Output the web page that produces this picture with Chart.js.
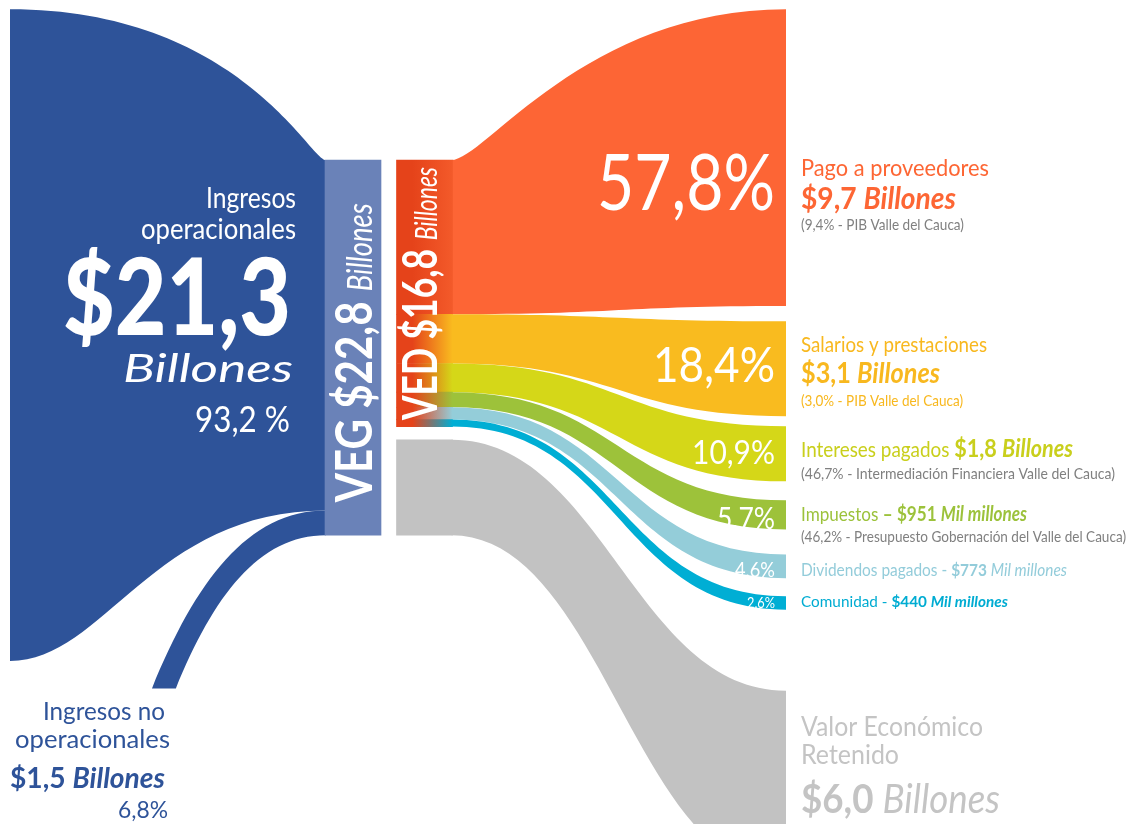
<!DOCTYPE html>
<html lang="es">
<head>
  <meta charset="UTF-8">
  <title>Valor Económico Generado y Distribuido</title>
  <script src="https://cdn.jsdelivr.net/npm/chart.js"></script>
  <style>
    html, body { margin: 0; padding: 0; background: #fff; }
    #wrap { width: 1129px; height: 824px; }
  </style>
</head>
<body>
  <div id="wrap"><canvas id="veg" width="1129" height="824"></canvas></div>

  <script>
    // values in billones de pesos
    const sourceNames = ['Ingresos operacionales', 'Ingresos no operacionales'];
    const sourceValues = [21.3, 1.5];
    const sourceAmount = ['$21,3', '$1,5'];
    const sourcePct = ['93,2 %', '6,8%'];
    const vegValue = 22.8;
    const vedValue = 16.8;
    const retainedValue = 6.0;

    const expenseNames = ['Pago a proveedores', 'Salarios y prestaciones', 'Intereses pagados', 'Impuestos', 'Dividendos pagados', 'Comunidad'];
    const expenseValues = [9.7, 3.1, 1.8, 0.951, 0.773, 0.44];
    const expensePct = ['57,8%', '18,4%', '10,9%', '5,7%', '4,6%', '2,6%'];
    const expenseAmount = ['$9,7', '$3,1', '$1,8', '$951', '$773', '$440'];
    const expenseUnit = ['Billones', 'Billones', 'Billones', 'Mil millones', 'Mil millones', 'Mil millones'];
    const expenseNotes = [
      '(9,4% - PIB Valle del Cauca)',
      '(3,0% - PIB Valle del Cauca)',
      '(46,7% - Intermediación Financiera Valle del Cauca)',
      '(46,2% - Presupuesto Gobernación del Valle del Cauca)',
      '', ''
    ];

    // colours
    const bandColors = ['#fd6535', '#f9bb1f', '#d5d718', '#9dc23a', '#94cdd9', '#00aed4'];
    const textColors = ['#fd6634', '#f8b81f', '#c9cf1c', '#9cc23b', '#93ccda', '#00acd2'];
    const BLUE = '#2e5399', BLUE_LIGHT = '#6a82b8', VED_RED = '#e5431a';
    const GREY = '#c2c2c2', GREY_TXT = '#c4c4c4', NOTE = '#808080';

    // layout (x in page pixels on a 0..1129 linear axis)
    const X = { left: 10, veg: 353, ved: 424.5, barW: 56, right: 786, nonOp: 152 };
    const GAP_IN = 0.8, RET_GAP = 2.65, NONOP_BASE = 22.2;
    const gapsOut = [0.5, 0.33, 0.62, 0.82, 0.59];   // space between the bands on the right

    const FONT = 'Lato, "Open Sans", sans-serif';
    const f = (size, weight = 'normal', style = 'normal') => `${style} ${weight} ${size}px ${FONT}`;

    const vedStart = expenseValues.map((v, i) => expenseValues.slice(0, i).reduce((a, b) => a + b, 0));
    const rightStart = vedStart.map((s, i) => s + gapsOut.slice(0, i).reduce((a, b) => a + b, 0));
    const retIn = vedValue + GAP_IN;
    const retOut = rightStart[5] + expenseValues[5] + RET_GAP;
    const vegSpan = vedValue + GAP_IN + retainedValue;

    const nodeBars = [
      { x: X.veg, y: [0, vegSpan] },
      ...expenseValues.map((v, i) => ({ x: X.ved, y: [vedStart[i], vedStart[i] + v] })),
      { x: X.ved, y: [retIn, retIn + retainedValue] }
    ];

    function nodeColor(c) {
      const i = c.dataIndex;
      if (i === undefined) return VED_RED;
      if (i === 0) return BLUE_LIGHT;
      if (i === nodeBars.length - 1) return GREY;
      const sx = c.chart.scales.x;
      if (!sx || !c.chart.chartArea) return VED_RED;
      const x0 = sx.getPixelForValue(X.ved - X.barW / 2 + 16);
      const x1 = sx.getPixelForValue(X.ved + X.barW / 2);
      const g = c.chart.ctx.createLinearGradient(x0, 0, x1, 0);
      g.addColorStop(0, VED_RED);
      g.addColorStop(1, i === 1 ? '#f35a2a' : bandColors[i - 1]);
      return g;
    }

    function ribbon(ctx, x0, t0, b0, x1, t1, b1, color, ct, cb) {
      const dx = x1 - x0;
      ctx.beginPath();
      ctx.moveTo(x0, t0);
      ctx.bezierCurveTo(x0 + dx * ct[0], t0, x0 + dx * ct[1], t1, x1, t1);
      ctx.lineTo(x1, b1);
      ctx.bezierCurveTo(x0 + dx * cb[1], b1, x0 + dx * cb[0], b0, x0, b0);
      ctx.closePath();
      ctx.fillStyle = color;
      ctx.fill();
    }

    function drawText(ctx, x, y, parts, w, align) {
      let total = 0;
      const ws = parts.map(([s, font]) => {
        ctx.font = font;
        const m = ctx.measureText(s).width;
        total += m;
        return m;
      });
      const sx = w ? w / total : 1;
      ctx.save();
      ctx.translate(align === 'right' ? x - total * sx : x, y);
      ctx.scale(sx, 1);
      ctx.textAlign = 'left';
      ctx.textBaseline = 'alphabetic';
      let cx = 0;
      parts.forEach(([s, font, color], i) => {
        ctx.font = font;
        ctx.fillStyle = color;
        ctx.fillText(s, cx, 0);
        cx += ws[i];
      });
      ctx.restore();
    }

    function drawFlows(chart) {
      const { ctx, scales: { x, yOut, yIn } } = chart;
      const yo = v => yOut.getPixelForValue(v);
      const yi = v => yIn.getPixelForValue(v);
      const k = vegSpan / vegValue;
      const vegL = x.getPixelForValue(X.veg - X.barW / 2) + 1;
      const vedR = x.getPixelForValue(X.ved + X.barW / 2) - 1;
      const xl = x.getPixelForValue(X.left);
      const xr = x.getPixelForValue(X.right);

      ctx.save();
      // ingresos operacionales
      ribbon(ctx, xl, yo(0), yo(sourceValues[0]), vegL, yi(0), yi(sourceValues[0] * k),
        BLUE, [0.72, 0.95], [0.3, 0.45]);

      // ingresos no operacionales (rises from the bottom)
      const nb = yo(NONOP_BASE);
      const w = yi(sourceValues[1]) - yi(0);
      const a = x.getPixelForValue(X.nonOp), b = a + w;
      const t1 = yi(sourceValues[0] * k), b1 = yi(vegSpan);
      ctx.beginPath();
      ctx.moveTo(a, nb);
      ctx.bezierCurveTo(a + (vegL - a) * 0.25, nb - (nb - t1) * 0.6, vegL - (vegL - a) * 0.45, t1, vegL, t1);
      ctx.lineTo(vegL, b1);
      ctx.bezierCurveTo(vegL - (vegL - b) * 0.45, b1, b + (vegL - b) * 0.25, nb - (nb - b1) * 0.6, b, nb);
      ctx.closePath();
      ctx.fillStyle = BLUE;
      ctx.fill();

      // distribuido
      expenseValues.forEach((v, i) => {
        ribbon(ctx, vedR, yi(vedStart[i]), yi(vedStart[i] + v), xr, yo(rightStart[i]), yo(rightStart[i] + v),
          bandColors[i], i === 0 ? [0.1, 0.4] : [0.5, 0.5], [0.5, 0.5]);
      });
      // retenido
      ribbon(ctx, vedR, yi(retIn), yi(retIn + retainedValue), xr, yo(retOut), yo(retOut + retainedValue),
        GREY, [0.45, 0.55], [0.45, 0.55]);
      ctx.restore();
    }

    function drawLabels(chart) {
      const { ctx, scales: { x, yOut, yIn } } = chart;
      const yo = v => yOut.getPixelForValue(v);
      const yi = v => yIn.getPixelForValue(v);
      const W = '#ffffff';

      // left block, white on blue
      drawText(ctx, 296, 208, [['Ingresos', f(28), W]], 90, 'right');
      drawText(ctx, 296, 239, [['operacionales', f(28), W]], 155, 'right');
      drawText(ctx, 291, 335, [[sourceAmount[0], f(107, '900'), W]], 228, 'right');
      drawText(ctx, 293, 382, [['Billones', f(39, 'normal', 'italic'), W]], 170, 'right');
      drawText(ctx, 290, 432, [[sourcePct[0], f(37), W]], 95, 'right');

      // ingresos no operacionales
      drawText(ctx, 165, 720, [['Ingresos no', f(25), BLUE]], 122, 'right');
      drawText(ctx, 170, 748, [['operacionales', f(25), BLUE]], 155, 'right');
      drawText(ctx, 165, 788, [[sourceAmount[1] + ' ', f(28, 'bold'), BLUE], ['Billones', f(28, 'bold', 'italic'), BLUE]], 155, 'right');
      drawText(ctx, 168, 818, [[sourcePct[1], f(23), BLUE]], 50, 'right');

      // vertical labels on the bars
      const vegBase = x.getPixelForValue(X.veg + X.barW / 2) - 9;
      ctx.save();
      ctx.translate(vegBase, yi(vegSpan) - 33);
      ctx.rotate(-Math.PI / 2);
      drawText(ctx, 0, 0, [['VEG ', f(52, 'bold'), W], ['$' + String(vegValue).replace('.', ',') + ' ', f(52, 'bold'), W],
        ['Billones', f(34, 'normal', 'italic'), W]], 299, 'left');
      ctx.restore();

      const vedBase = x.getPixelForValue(X.ved + X.barW / 2) - 15.5;
      ctx.save();
      ctx.translate(vedBase, yi(vedValue) - 7);
      ctx.rotate(-Math.PI / 2);
      drawText(ctx, 0, 0, [['VED ', f(48, 'bold'), W], ['$' + String(vedValue).replace('.', ',') + ' ', f(48, 'bold'), W],
        ['Billones', f(31, 'normal', 'italic'), W]], yi(vedValue) - yi(0) - 14, 'left');
      ctx.restore();

      // percentages inside the bands
      const pctSize = [77, 49, 32, 30, 21, 15];
      const pctW = [178, 122, 83, 58, 40, 28];
      const pctDy = [52, 13.5, 10.5, 14.5, 11, 5.5];
      const lx = 801, px = 775;
      const cen = i => (yo(rightStart[i]) + yo(rightStart[i] + expenseValues[i])) / 2;
      expenseValues.forEach((v, i) => {
        drawText(ctx, px, cen(i) + pctDy[i], [[expensePct[i], f(pctSize[i]), W]], pctW[i], 'right');
      });

      // labels right of the bands
      const C = textColors;
      drawText(ctx, lx, cen(0) + 18, [[expenseNames[0], f(24), C[0]]], 188);
      drawText(ctx, lx, cen(0) + 51, [[expenseAmount[0] + ' ', f(30, 'bold'), C[0]], [expenseUnit[0], f(30, 'bold', 'italic'), C[0]]], 155);
      drawText(ctx, lx, cen(0) + 72, [[expenseNotes[0], f(16), NOTE]], 163);

      drawText(ctx, lx, cen(1) - 16.5, [[expenseNames[1], f(21), C[1]]], 186);
      drawText(ctx, lx, cen(1) + 14.5, [[expenseAmount[1] + ' ', f(28, 'bold'), C[1]], [expenseUnit[1], f(28, 'bold', 'italic'), C[1]]], 139);
      drawText(ctx, lx, cen(1) + 37.5, [[expenseNotes[1], f(16), C[1]]], 162);

      drawText(ctx, lx, cen(2) + 3.5, [[expenseNames[2] + ' ', f(21), C[2]], [expenseAmount[2] + ' ', f(24, 'bold'), C[2]],
        [expenseUnit[2], f(24, 'bold', 'italic'), C[2]]], 272);
      drawText(ctx, lx, cen(2) + 25.5, [[expenseNotes[2], f(15), NOTE]], 314);

      drawText(ctx, lx, cen(3) + 6.5, [[expenseNames[3] + ' ', f(20), C[3]], ['– ' + expenseAmount[3] + ' ', f(20, 'bold'), C[3]],
        [expenseUnit[3], f(20, 'bold', 'italic'), C[3]]], 226);
      drawText(ctx, lx, cen(3) + 27.5, [[expenseNotes[3], f(15), NOTE]], 325);

      drawText(ctx, lx, cen(4) + 10, [[expenseNames[4] + ' - ', f(17), C[4]], [expenseAmount[4] + ' ', f(17, 'bold'), C[4]],
        [expenseUnit[4], f(17, 'normal', 'italic'), C[4]]], 266);

      drawText(ctx, lx, cen(5) + 4.5, [[expenseNames[5] + ' - ', f(16), C[5]], [expenseAmount[5] + ' ', f(16, 'bold'), C[5]],
        [expenseUnit[5], f(16, 'bold', 'italic'), C[5]]], 207);

      // valor económico retenido
      const rt = yo(retOut);
      drawText(ctx, lx, rt + 45, [['Valor Económico', f(27), GREY_TXT]], 182);
      drawText(ctx, lx, rt + 73, [['Retenido', f(27), GREY_TXT]], 98);
      drawText(ctx, lx, rt + 122, [['$' + retainedValue.toFixed(1).replace('.', ',') + ' ', f(40, 'bold'), GREY_TXT],
        ['Billones', f(40, 'normal', 'italic'), GREY_TXT]], 199);
    }

    const flowPlugin = {
      id: 'flows',
      beforeDatasetsDraw(chart) { drawFlows(chart); },
      afterDatasetsDraw(chart) { drawLabels(chart); }
    };

    new Chart(document.getElementById('veg'), {
      type: 'bar',
      data: {
        datasets: [{
          label: 'Nodos',
          data: nodeBars,
          yAxisID: 'yIn',
          barThickness: X.barW,
          backgroundColor: nodeColor,
          borderWidth: 0
        }]
      },
      options: {
        responsive: false,
        animation: false,
        devicePixelRatio: 1,
        layout: { padding: 0 },
        plugins: { legend: { display: false }, tooltip: { enabled: false } },
        scales: {
          x: { type: 'linear', min: 0, max: 1129, offset: false, display: false },
          yOut: { type: 'linear', reverse: true, min: -0.3, max: -0.3 + 824 / 30.6, display: false },
          yIn: { type: 'linear', reverse: true, min: -160 / 15.9, max: -160 / 15.9 + 824 / 15.9, display: false }
        }
      },
      plugins: [flowPlugin]
    });
  </script>
</body>
</html>
